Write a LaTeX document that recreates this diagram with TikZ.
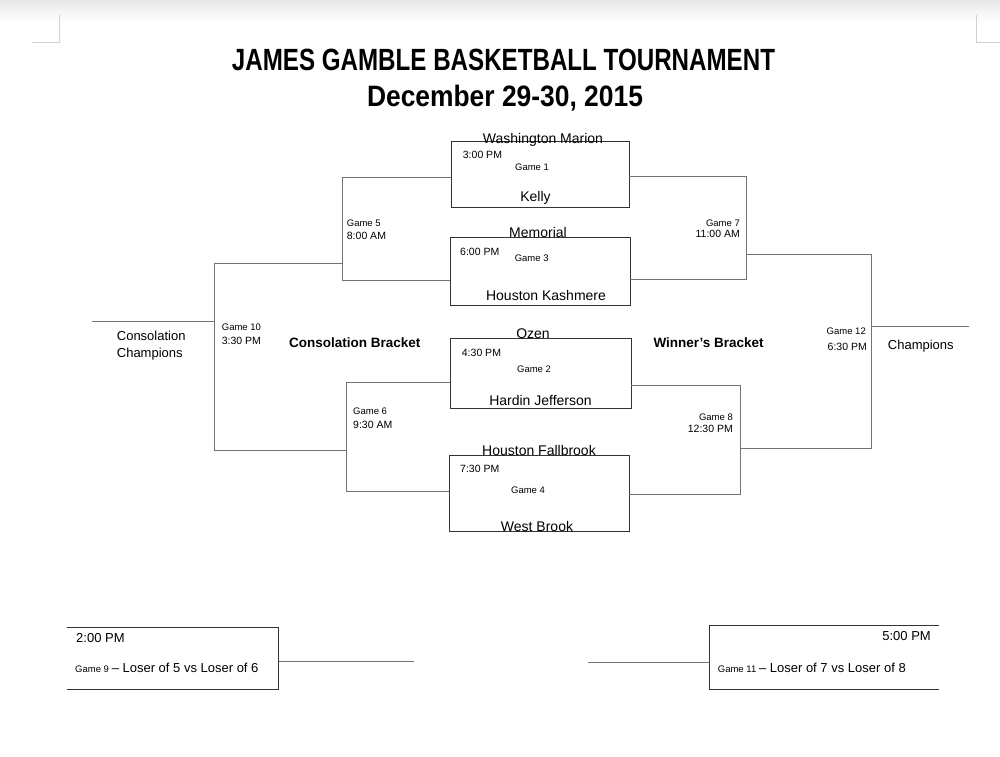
\documentclass[tikz,border=0pt]{standalone}
\usepackage{fontspec}
\setmainfont{Liberation Sans}
\usepackage{graphicx}
\begin{document}
\begin{tikzpicture}[x=1pt,y=-1pt,
  gbox/.style={draw=black!80, line width=0.9pt, inner sep=0pt},
  obox/.style={inner sep=0pt},
  bline/.style={draw=black!55, line width=0.9pt},
  edge/.style={draw=black!80, line width=0.9pt},
  lbl/.style={inner sep=0pt, text=black},
  team/.style={lbl, anchor=base, font=\fontsize{14}{16}\selectfont},
  tm/.style={lbl, font=\fontsize{10.5}{12}\selectfont},
  gm/.style={lbl, font=\fontsize{9.5}{11}\selectfont},
  big/.style={lbl, font=\fontsize{13}{15}\selectfont},
  brk/.style={lbl, anchor=base west, font=\fontsize{13.5}{15}\selectfont\bfseries},
  corner/.style={draw=black!18, line width=0.8pt}
]
\useasboundingbox (0,0) rectangle (1000,756);
\fill[white] (0,0) rectangle (1000,756);
\shade[top color=black!9, bottom color=white] (0,0) rectangle (1000,22);
% page corner marks
\coordinate (kl1) at (59,15); \coordinate (kl2) at (59,42); \coordinate (kl3) at (32,42);
\coordinate (kr1) at (976,15); \coordinate (kr2) at (976,42); \coordinate (kr3) at (1000,42);
\draw[corner] (kl1) -- (kl2) -- (kl3);
\draw[corner] (kr1) -- (kr2) -- (kr3);

% title
\node[lbl, anchor=base] (title) at (503.5,70) {\resizebox{543pt}{\height}{\fontsize{30.7}{31}\selectfont\bfseries JAMES GAMBLE BASKETBALL TOURNAMENT}};
\node[lbl, anchor=base] (date) at (505,106) {\resizebox{276pt}{\height}{\fontsize{29.5}{30}\selectfont\bfseries December 29-30, 2015}};

% first round boxes
\node[gbox, minimum width=177.3pt, minimum height=65.3pt] (g1) at (540.3,174.3) {};
\node[gbox, minimum width=180pt, minimum height=67.3pt] (g3) at (540,271.3) {};
\node[gbox, minimum width=180.3pt, minimum height=70pt] (g2) at (540.8,373.3) {};
\node[gbox, minimum width=180pt, minimum height=76.7pt] (g4) at (539,493.3) {};

% bracket corners
\coordinate (c5t) at (342.3,177.7); \coordinate (c5b) at (342.3,280);
\coordinate (c6t) at (346.7,382.3); \coordinate (c6b) at (346.7,491.7);
\coordinate (c10t) at (214.3,263.3); \coordinate (c10b) at (214.3,450.7);
\coordinate (cc) at (91.7,321.3);
\coordinate (c7t) at (746.7,176.7); \coordinate (c7b) at (746.7,279);
\coordinate (c8t) at (740,385.3); \coordinate (c8b) at (740,494);
\coordinate (c12t) at (871.7,254.3); \coordinate (c12b) at (871.7,448.3);
\coordinate (ch) at (969,326.7);

\draw[bline] (g1.west |- c5t) -- (c5t) -- (c5b) -- (g3.west |- c5b);
\draw[bline] (g2.west |- c6t) -- (c6t) -- (c6b) -- (g4.west |- c6b);
\draw[bline] (c5t |- c10t) -- (c10t) -- (c10b) -- (c6t |- c10b);
\draw[bline] (cc) -- (c10t |- cc);
\draw[bline] (g1.east |- c7t) -- (c7t) -- (c7b) -- (g3.east |- c7b);
\draw[bline] (g2.east |- c8t) -- (c8t) -- (c8b) -- (g4.east |- c8b);
\draw[bline] (c7t |- c12t) -- (c12t) -- (c12b) -- (c8t |- c12b);
\draw[bline] (c12t |- ch) -- (ch);

% team names
\node[team] (wm) at (543,143.3) {Washington Marion};
\node[team] (ke) at (535.5,201.5) {Kelly};
\node[team] (me) at (538,237.7) {Memorial};
\node[team] (hk) at (546,300.7) {Houston Kashmere};
\node[team] (oz) at (533,338.3) {Ozen};
\node[team] (hj) at (540.5,405.7) {Hardin Jefferson};
\node[team] (hf) at (539,455.7) {Houston Fallbrook};
\node[team] (wb) at (537,531.7) {West Brook};

% times and game numbers in boxes
\node[tm, anchor=base west] (t1) at (462.7,158.3) {3:00 PM};
\node[gm, anchor=base] (n1) at (532,170) {Game 1};
\node[tm, anchor=base west] (t3) at (460,255.7) {6:00 PM};
\node[gm, anchor=base] (n3) at (531.7,261.7) {Game 3};
\node[tm, anchor=base west] (t2) at (461.7,356.7) {4:30 PM};
\node[gm, anchor=base] (n2) at (534,372.7) {Game 2};
\node[tm, anchor=base west] (t4) at (460,472.3) {7:30 PM};
\node[gm, anchor=base] (n4) at (528,493.3) {Game 4};

% later rounds
\node[gm, anchor=base west] (n5) at (346.7,226.7) {Game 5};
\node[tm, anchor=base west] (t5) at (346.7,239.3) {8:00 AM};
\node[gm, anchor=base west] (n6) at (353,414) {Game 6};
\node[tm, anchor=base west] (t6) at (353,428.3) {9:30 AM};
\node[gm, anchor=base west] (n10) at (221.7,330) {Game 10};
\node[tm, anchor=base west] (t10) at (221.7,344) {3:30 PM};
\node[gm, anchor=base east] (n7) at (740,226) {Game 7};
\node[tm, anchor=base east] (t7) at (740,237.7) {11:00 AM};
\node[gm, anchor=base east] (n8) at (733,420.7) {Game 8};
\node[tm, anchor=base east] (t8) at (733,432.7) {12:30 PM};
\node[gm, anchor=base east] (n12) at (866,334.7) {Game 12};
\node[tm, anchor=base east] (t12) at (867,350) {6:30 PM};

\node[big, anchor=base west] (cc1) at (116.7,340) {Consolation};
\node[big, anchor=base west] (cc2) at (116.7,357) {Champions};
\node[big, anchor=base west] (chp) at (887.7,349) {Champions};
\node[brk] (cb) at (289,347.3) {Consolation Bracket};
\node[brk] (wbk) at (653.3,347.3) {Winner's Bracket};

% bottom boxes
\node[obox, minimum width=211.6pt, minimum height=62pt] (g9) at (172.5,658.3) {};
\draw[edge] (g9.north west) -- (g9.north east) -- (g9.south east) -- (g9.south west);
\coordinate (s9) at (414,661.7);
\draw[bline] (g9.east |- s9) -- (s9);
\node[big, anchor=base west] (t9) at (76,642.3) {2:00 PM};
\node[lbl, anchor=base west] (l9) at (75,672.7) {{\fontsize{9.5}{11}\selectfont Game 9} {\fontsize{13}{15}\selectfont – Loser of 5 vs Loser of 6}};

\node[obox, minimum width=229pt, minimum height=63.6pt] (g11) at (824.5,657.5) {};
\draw[edge] (g11.north east) -- (g11.north west) -- (g11.south west) -- (g11.south east);
\coordinate (s11) at (588.3,662.7);
\draw[bline] (s11) -- (g11.west |- s11);
\node[big, anchor=base east] (t11) at (931,640.7) {5:00 PM};
\node[lbl, anchor=base west] (l11) at (717.7,672.7) {{\fontsize{9.5}{11}\selectfont Game 11} {\fontsize{13}{15}\selectfont – Loser of 7 vs Loser of 8}};
\end{tikzpicture}
\end{document}
